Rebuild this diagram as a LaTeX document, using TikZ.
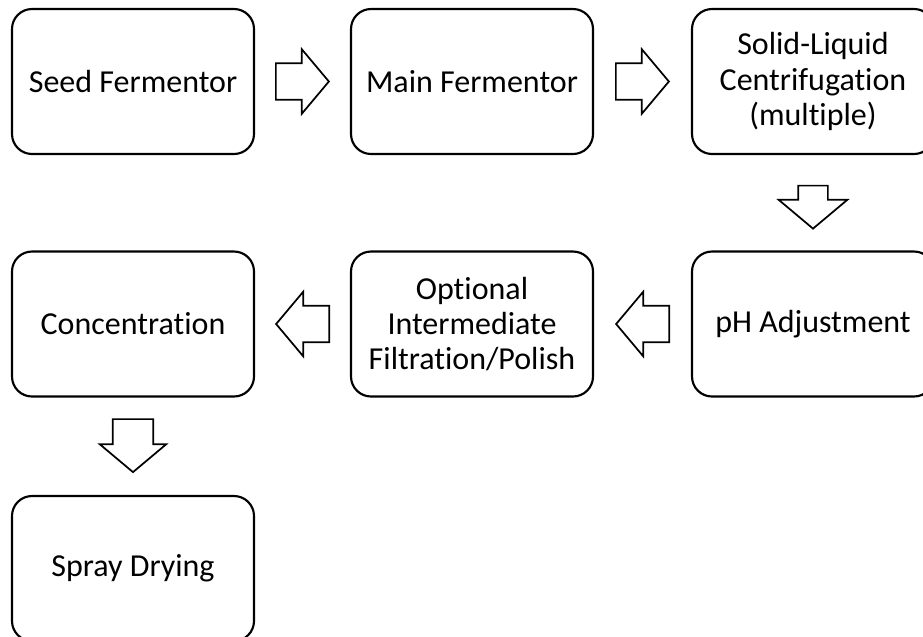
\documentclass[tikz,border=0pt]{standalone}
\usepackage{fontspec}
\setmainfont{Carlito}[RawFeature=-liga]
\usetikzlibrary{positioning}
\usetikzlibrary{shapes.arrows}
\usetikzlibrary{calc}

\begin{document}
\begin{tikzpicture}[x=0.75pt,y=-0.75pt]

          \tikzstyle{stageNode} = [draw, line width=1.6pt, rounded corners=15pt, inner sep=0pt, minimum width=181.5pt, minimum height=108.75pt, align=center, font=\fontsize{24}{26.3}\selectfont];

          \tikzstyle{flowArrow} = [draw, line width=1.3pt, single arrow, single arrow tip angle=100, anchor=tail];
          \tikzstyle{flowArrowH} = [flowArrow, inner xsep=0pt, inner ysep=13.1pt, single arrow head extend=10.5pt, minimum height=39.75pt];

          \clip (0,0) rectangle (923,636);

          \node[stageNode] (seed) at (133,81.5) {Seed Fermentor};
          \node[stageNode] (main) at (472,81.5) {Main Fermentor};
          \node[stageNode] (centri) at (813,81.5) {Solid-Liquid\\Centrifugation\\(multiple)};
          \node[stageNode] (ph) at (813,324) {pH Adjustment};
          \node[stageNode] (polish) at (472,324) {Optional\\Intermediate\\Filtration/Polish};
          \node[stageNode] (conc) at (133,324) {Concentration};
          \node[stageNode] (spray) at (133,568.5) {Spray Drying};

          \node[flowArrowH] (arrA) at ($(seed.east)!0.5!(main.west)+(-27.5,0)$) {};
          \node[flowArrowH] (arrB) at ($(main.east)!0.5!(centri.west)+(-27.5,0)$) {};
          \node[flowArrow, shape border rotate=270, inner ysep=0pt, inner xsep=10.5pt, single arrow head extend=14.6pt, minimum height=32.25pt] (arrC) at ($(centri.south)!0.5!(ph.north)+(0,-18)$) {};
          \node[flowArrowH, shape border rotate=180] (arrD) at ($(ph.west)!0.5!(polish.east)+(27.5,0)$) {};
          \node[flowArrowH, shape border rotate=180] (arrE) at ($(polish.west)!0.5!(conc.east)+(27.5,0)$) {};
          \node[flowArrow, shape border rotate=270, inner ysep=0pt, inner xsep=14.6pt, single arrow head extend=9.75pt, minimum height=39.75pt] (arrF) at ($(conc.south)!0.5!(spray.north)+(0,-28)$) {};
        \end{tikzpicture}
\end{document}
